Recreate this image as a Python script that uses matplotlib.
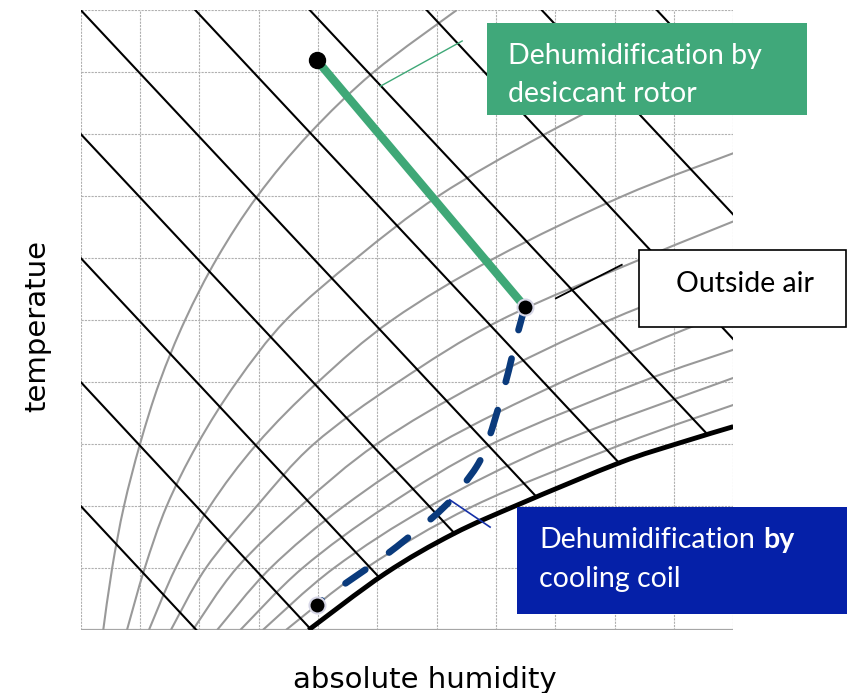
import matplotlib.pyplot as plt
from matplotlib.patches import Rectangle, PathPatch
from matplotlib.path import Path

# chart grid: 11 humidity units across, 10 temperature units up
x_max = 11
y_max = 10

# relative humidity curves (x at each temperature step)
rh1_x = [0.38, 0.53, 0.73, 1.00, 1.33, 1.76, 2.30, 2.98, 3.85, 4.94, 6.34]
rh1_y = [0, 1, 2, 3, 4, 5, 6, 7, 8, 9, 10]
rh2_x = [0.78, 1.08, 1.45, 1.97, 2.63, 3.46, 4.65, 6.03, 7.83, 9.9, 11.0]
rh2_y = [0, 1, 2, 3, 4, 5, 6, 7, 8, 9, 9.4]
rh3_x = [1.15, 1.60, 2.18, 2.97, 4.00, 5.25, 6.98, 9.14, 11.0]
rh3_y = [0, 1, 2, 3, 4, 5, 6, 7, 7.69]
rh4_x = [1.52, 2.11, 2.97, 3.93, 5.35, 7.08, 9.49, 11.0]
rh4_y = [0, 1, 2, 3, 4, 5, 6, 6.59]
rh5_x = [1.89, 2.63, 3.71, 4.99, 6.75, 8.92, 11.0]
rh5_y = [0, 1, 2, 3, 4, 5, 5.78]
rh6_x = [2.30, 3.20, 4.44, 6.02, 8.11, 10.27, 11.0]
rh6_y = [0, 1, 2, 3, 4, 4.88, 5.1]
rh7_x = [2.69, 3.74, 5.16, 6.93, 9.44, 11.0]
rh7_y = [0, 1, 2, 3, 4, 4.52]
rh8_x = [3.07, 4.27, 5.89, 8.01, 10.81, 11.0]
rh8_y = [0, 1, 2, 3, 4, 4.05]
rh9_x = [3.46, 4.81, 6.62, 9.14, 11.0]
rh9_y = [0, 1, 2, 3, 3.63]
rh_curves = [(rh1_x, rh1_y), (rh2_x, rh2_y), (rh3_x, rh3_y), (rh4_x, rh4_y),
             (rh5_x, rh5_y), (rh6_x, rh6_y), (rh7_x, rh7_y), (rh8_x, rh8_y),
             (rh9_x, rh9_y)]

# saturation curve
sat_x = [3.84, 5.13, 6.28, 7.42, 9.09, 10.07, 11.0]
sat_y = [0, 0.91, 1.55, 2.04, 2.70, 3.01, 3.28]

# enthalpy lines (start / end)
enth_x0 = [0, 0, 0, 0, 0, 1.93, 3.86, 5.83, 7.77, 9.71]
enth_y0 = [2, 4, 6, 8, 10, 10, 10, 10, 10, 10]
enth_x1 = [1.95, 3.89, 5.04, 6.31, 7.69, 9.09, 10.55, 11, 11, 11]
enth_y1 = [0, 0, 0.84, 1.55, 2.14, 2.68, 3.17, 4.69, 6.70, 8.68]

# states
outside = (7.49, 5.21)
desiccant_out = (3.98, 9.19)
coil_out = (3.98, 0.40)
# cooling coil path: sensible part, then along the saturation line
coil1_x = [7.49, 7.38, 7.15, 6.87, 6.67, 6.25]
coil1_y = [5.21, 4.84, 3.95, 3.06, 2.63, 2.10]
coil2_x = [6.25, 5.89, 5.13, 4.34, 3.98]
coil2_y = [2.10, 1.78, 1.20, 0.67, 0.42]

W, H = 847, 693
BOX_FONT = "Lato"


def smooth_path(*pieces):
    # smoothed line through the points (like a spreadsheet "smoothed line")
    verts, codes = [], []
    for xs, ys in pieces:
        pts = list(zip(xs, ys))
        n = len(pts)
        if not verts:
            verts.append(pts[0])
            codes.append(Path.MOVETO)
        for i in range(n - 1):
            p0, p1 = pts[max(i - 1, 0)], pts[i]
            p2, p3 = pts[i + 1], pts[min(i + 2, n - 1)]
            c1 = (p1[0] + (p2[0] - p0[0]) / 6, p1[1] + (p2[1] - p0[1]) / 6)
            c2 = (p2[0] - (p3[0] - p1[0]) / 6, p2[1] - (p3[1] - p1[1]) / 6)
            verts += [c1, c2, p2]
            codes += [Path.CURVE4] * 3
    return Path(verts, codes)


fig = plt.figure(figsize=(W / 100, H / 100), dpi=100)
ax = fig.add_axes([80.7 / W, 1 - 630 / H, 652.6 / W, 620 / H])
ax.set_xlim(0, x_max)
ax.set_ylim(0, y_max)
ax.set_xticks(range(x_max + 1))
ax.set_yticks(range(y_max + 1))
ax.tick_params(length=0, labelbottom=False, labelleft=False)
ax.grid(True, color="#b0b0b0", linestyle=(0, (2, 1)), linewidth=0.8)
ax.set_axisbelow(True)
for s in ax.spines.values():
    s.set_visible(False)
ax.axhline(0, color="#a6a6a6", lw=1.6, zorder=1)

for cx, cy in rh_curves:
    ax.add_patch(PathPatch(smooth_path((cx, cy)), fill=False,
                           edgecolor="#999999", lw=1.5, zorder=2))

for x0, y0, x1, y1 in zip(enth_x0, enth_y0, enth_x1, enth_y1):
    ax.plot([x0, x1], [y0, y1], color="black", lw=1.5, zorder=3)

ax.add_patch(PathPatch(smooth_path((sat_x, sat_y)), fill=False,
                       edgecolor="black", lw=3.5, zorder=3))

# processes
ax.plot([outside[0], desiccant_out[0]], [outside[1], desiccant_out[1]],
        color="#3fa877", lw=6, zorder=4, solid_capstyle="butt")
coil = PathPatch(smooth_path((coil1_x, coil1_y), (coil2_x, coil2_y)),
                 fill=False, edgecolor="#0a3a7c", lw=4.8, zorder=4,
                 linestyle=(0, (3.6, 4.4)), capstyle="round")
ax.add_patch(coil)

ax.plot(*desiccant_out, "o", color="black", ms=11.5, zorder=6)
ax.plot(*outside, "o", color="black", ms=11.5, mec="#d6d6e6", mew=1.5, zorder=6)
ax.plot(*coil_out, "o", color="black", ms=11.5, mec="#d6d6e6", mew=1.5, zorder=6)

# leader lines
ax.plot([5.05, 6.43], [8.77, 9.50], color="#3fa877", lw=1, zorder=5, clip_on=False)
ax.plot([8.01, 9.12], [5.35, 5.89], color="black", lw=1.3, zorder=5, clip_on=False)
ax.plot([6.22, 6.90], [2.10, 1.66], color="#1530a8", lw=1.2, zorder=5, clip_on=False)


def box(x0, y0, x1, y1, face, edge=None, lw=0):
    r = Rectangle((x0 / W, 1 - y1 / H), (x1 - x0) / W, (y1 - y0) / H,
                  transform=fig.transFigure, facecolor=face,
                  edgecolor=edge if edge else face, lw=lw, zorder=10)
    fig.add_artist(r)


def label(x, y, s, color, weight="normal"):
    return fig.text(x / W, 1 - y / H, s, color=color, fontsize=20.5,
                    family=BOX_FONT, weight=weight, ha="left",
                    va="baseline", zorder=11)


box(487, 23, 807, 115, "#40a87a")
label(508, 64, "Dehumidification by", "white")
label(508, 102, "desiccant rotor", "white")

box(639, 250, 845.5, 327, "white", "black", 1.2)
label(676, 292, "Outside air", "black")

box(517, 507, 847, 614, "#0520a8")
t = label(539, 548, "Dehumidification", "white")
label(539, 587, "cooling coil", "white")
fig.canvas.draw()
end_x = t.get_window_extent().x1
label(end_x + 8, 548, "by", "white", "bold")

fig.text(37 / W, 1 - 326 / H, "temperatue", rotation=90, fontsize=21,
         ha="center", va="center")
fig.text(425 / W, 1 - 688 / H, "absolute humidity", fontsize=21,
         ha="center", va="baseline")

fig.savefig("out.png", dpi=100)
